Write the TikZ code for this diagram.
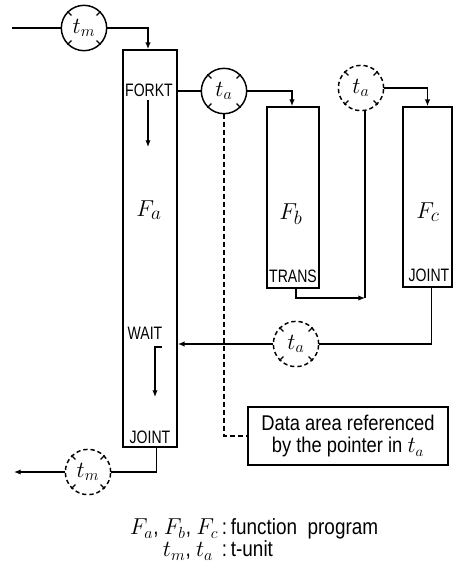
\documentclass[tikz,border=0pt]{standalone}
\usepackage{fontspec}
\newfontfamily\cond[FakeStretch=0.78]{Liberation Sans}
\newfontfamily\condb[FakeStretch=0.86]{Liberation Sans}
\usetikzlibrary{arrows.meta,calc}
\newcommand\tticks[1]{\foreach \a in {45,135,225,315}{\draw[line width=0.9pt] (#1.\a) -- ($(#1.center)!0.76!(#1.\a)$);}}
\tikzset{
  tunit/.style={circle, draw, line width=1.1pt, minimum size=34pt, inner sep=0pt, font=\fontsize{17}{19}\selectfont},
  tdash/.style={tunit, dash pattern=on 3.2pt off 2.2pt},
  fbox/.style={draw, line width=1.3pt, inner sep=0pt},
  lbl/.style={font=\cond\fontsize{13.5}{15}\selectfont, inner sep=0pt},
  flbl/.style={font=\fontsize{19}{21}\selectfont, inner sep=0pt},
  conn/.style={line width=0.9pt},
  arr/.style={conn, -{Latex[length=5pt,width=4pt]}},
}
\begin{document}
\begin{tikzpicture}[x=0.75pt,y=-0.75pt]
\useasboundingbox (0,0) rectangle (455,568);
% boxes
\node[fbox, minimum width=40.5pt, minimum height=297.75pt] (Fa) at (150,248.5) {};
\node[fbox, minimum width=39pt, minimum height=135.75pt] (Fb) at (293,197.5) {};
\node[fbox, minimum width=36.75pt, minimum height=135pt] (Fc) at (427.5,197) {};
\node[fbox, line width=1.1pt, minimum width=150pt, minimum height=43.5pt, align=center,
      font=\condb\fontsize{16}{17}\selectfont] (data) at (348,436)
      {Data area referenced\\by the pointer in $t_a$};
% labels
\node[lbl] (forkt) at (149,90) {FORKT};
\node[lbl] (wait) at (145,333) {WAIT};
\node[lbl] (joina) at (150,437) {JOINT};
\node[lbl] (trans) at (293,276) {TRANS};
\node[lbl] (joinc) at (429,275) {JOINT};
\node[flbl] (la) at (149,210) {$F_a$};
\node[flbl] (lb) at (291,214) {$F_b$};
\node[flbl] (lc) at (428,212) {$F_c$};
% t-units
\node[tunit] (tm1) at (84,28) {$t_m$};
\node[tunit] (ta1) at (224,91) {$t_a$};
\node[tdash] (ta2) at (361,88) {$t_a$};
\node[tdash] (ta3) at (296,344) {$t_a$};
\node[tdash] (tm2) at (88,472) {$t_m$};
\tticks{tm1}\tticks{ta1}\tticks{ta2}\tticks{ta3}\tticks{tm2}
% coordinates
\coordinate (in) at (12,28);
\coordinate (out) at (14,472);
\coordinate (c1) at (365,298);
\coordinate (w1) at (162,347);
\coordinate (w2) at (155,347);
\coordinate (w3) at (155,397);
\coordinate (f1) at (148,100);
\coordinate (f2) at (148,147);
% connectors
\draw[conn] (in) -- (tm1.west);
\draw[arr] (tm1.east) -| ([xshift=-1.5pt]Fa.north);
\draw[conn] (ta1.west) -- (ta1.west -| Fa.east);
\draw[arr] (ta1.east) -| ([xshift=-0.75pt]Fb.north);
\draw[arr] ([xshift=2.25pt]Fb.south) |- (c1);
\draw[conn] (c1) -- (c1 |- ta2.south);
\draw[arr] (ta2.east) -| (Fc.north);
\draw[conn] ([xshift=3pt]Fc.south) |- (ta3.east);
\draw[arr] (ta3.west) -- (ta3.west -| Fa.east);
\draw[arr] (w1) -- (w2) -- (w3);
\draw[arr] (f1) -- (f2);
\draw[conn] ([xshift=5pt]Fa.south) |- (tm2.east);
\draw[arr] (tm2.west) -- (out);
\draw[conn, dash pattern=on 3.5pt off 2.5pt] (ta1.south) |- (data.west);
% legend
\node[inner sep=0pt, font=\condb\fontsize{16.5}{16}\selectfont] (legend) at (254,541)
  {\begin{tabular}{@{}r@{\,:\,}l@{}}$F_a$,\ $F_b$,\ $F_c$ & function\ \ program\\ $t_m$,\ $t_a$\ \ & t-unit\end{tabular}};
\end{tikzpicture}
\end{document}
